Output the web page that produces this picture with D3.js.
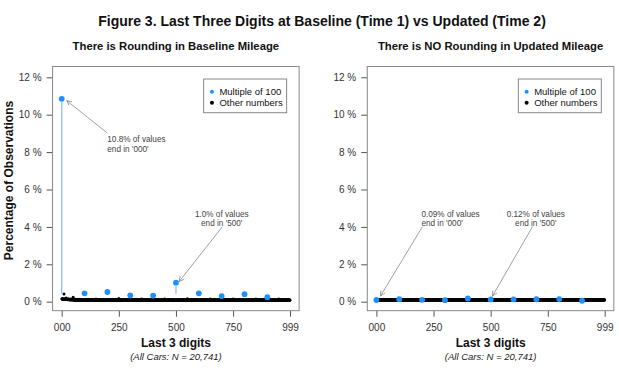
<!DOCTYPE html>
<html><head><meta charset="utf-8">
<script src="https://cdn.jsdelivr.net/npm/d3@7"></script>
<style>
body{margin:0;background:#fff}
text{font-family:"Liberation Sans",Arial,Helvetica,sans-serif}
</style>
</head><body>
<svg id="chart" width="619" height="369"></svg>
<script>
// ---------------- DATA ----------------
const N = 20741;
const figureTitle = "Figure 3. Last Three Digits at Baseline (Time 1) vs Updated (Time 2)";
const panelTitles = ["There is Rounding in Baseline Mileage", "There is NO Rounding in Updated Mileage"];
const xTitle = "Last 3 digits";
const xNote = "(All Cars: N = 20,741)";
const yTitle = "Percentage of Observations";
const legendLabels = ["Multiple of 100", "Other numbers"];

const xTicks = [0, 250, 500, 750, 999];
const xTickLabels = ["000", "250", "500", "750", "999"];
const yTicks = [0, 2, 4, 6, 8, 10, 12];

// multiples of 100 (000,100,...,900), percent of observations
const mult100Digits = [0, 100, 200, 300, 400, 500, 600, 700, 800, 900];
const baselineMult100 = [10.85, 0.45, 0.52, 0.34, 0.33, 1.02, 0.45, 0.30, 0.40, 0.24];
const updatedMult100  = [0.09, 0.13, 0.10, 0.08, 0.17, 0.12, 0.12, 0.13, 0.14, 0.05];

// other numbers: counts for digits b01..b99 of each hundred block b
const baselineOtherCounts = [
 [34,31,30,29,33,28,30,27,29,85, 30,28,27,29,26,28,25,27,26,40, 25,26,24,27,25,23,26,24,25,33, 24,23,25,22,24,23,22,24,23,30, 22,23,21,22,24,21,22,23,21,48, 21,20,22,21,19,22,20,21,20,27, 20,21,19,20,22,19,20,21,19,26, 19,20,18,21,19,20,19,18,20,27, 19,18,20,19,21,18,19,20,18,25, 19,20,18,19,17,20,19,18,19],
 [20,19,18,21,19,20,18,19,21,25, 18,20,19,17,20,19,21,18,19,24, 19,18,20,19,17,21,18,19,20,23, 18,19,21,17,19,20,18,19,17,24, 20,18,19,21,18,17,19,20,18,31, 19,17,20,18,19,21,18,17,19,23, 18,20,17,19,18,20,19,17,18,24, 19,18,20,17,19,18,21,19,18,23, 17,19,18,20,18,19,17,18,20,22, 18,19,17,20,18,17,19,18,19],
 [19,18,20,17,19,21,18,19,17,24, 18,20,19,18,17,20,19,18,21,23, 17,19,18,20,19,17,18,21,19,25, 20,18,17,19,18,20,19,17,18,23, 19,17,20,18,21,19,18,17,19,35, 18,19,17,20,18,19,21,17,18,24, 19,18,20,19,17,18,20,19,18,23, 17,20,18,19,18,17,19,20,18,24, 19,18,17,20,19,18,17,19,21,22, 18,19,20,17,18,19,18,20,17],
 [18,20,19,17,18,19,20,18,17,23, 19,18,17,20,19,18,19,17,20,24, 18,19,21,18,17,19,18,20,19,22, 17,18,19,20,18,17,19,18,20,24, 19,20,18,17,19,18,20,19,18,30, 18,17,19,20,18,19,17,18,19,23, 20,18,19,17,18,20,19,18,17,24, 19,17,18,20,19,18,21,17,19,23, 18,19,17,18,20,19,18,17,19,22, 19,18,20,17,19,18,17,20,18],
 [19,17,18,20,19,18,17,19,20,23, 18,19,20,17,18,19,21,18,17,24, 19,18,17,19,20,18,19,17,18,23, 20,19,18,17,19,18,20,19,17,25, 18,17,19,18,20,19,17,18,19,31, 19,18,20,17,18,19,18,20,17,23, 18,19,17,20,19,18,17,19,18,24, 17,18,19,20,18,17,19,18,20,22, 19,18,17,19,21,18,19,17,18,24, 18,20,19,17,18,19,20,18,17],
 [18,19,17,20,18,19,18,17,19,24, 19,18,20,18,17,19,20,18,19,23, 17,19,18,20,19,18,17,19,18,24, 19,18,17,19,20,18,19,18,17,23, 18,20,19,17,18,19,17,20,18,32, 19,17,18,19,20,18,19,17,18,22, 18,19,20,18,17,19,18,20,19,24, 17,18,19,18,20,19,17,18,19,23, 19,17,18,20,18,19,18,17,20,24, 18,19,17,18,19,20,18,17,19],
 [19,18,20,17,18,19,17,19,18,23, 18,17,19,20,18,19,18,17,19,24, 19,20,18,17,19,18,20,19,17,22, 18,19,17,18,20,19,18,17,19,24, 17,18,19,20,18,17,19,18,20,30, 19,18,17,19,18,20,19,18,17,23, 18,19,20,17,19,18,17,19,18,24, 19,17,18,19,20,18,19,17,18,23, 17,19,18,20,19,17,18,19,18,22, 19,18,17,19,18,20,17,18,19],
 [18,19,17,18,20,19,18,17,19,24, 19,18,20,19,17,18,19,20,18,23, 18,17,19,18,19,20,18,17,19,24, 19,18,17,20,18,19,17,18,20,22, 18,19,20,17,19,18,19,17,18,31, 17,19,18,19,20,18,17,19,18,24, 19,18,17,20,18,19,18,20,17,23, 18,19,18,17,19,20,18,19,17,24, 19,17,18,19,18,20,19,17,18,23, 18,19,17,20,18,17,19,18,19],
 [19,18,20,17,19,18,17,19,20,23, 18,17,19,18,20,19,18,17,19,24, 17,19,18,20,18,17,19,18,20,23, 19,18,17,19,18,20,17,18,19,24, 18,19,20,18,17,19,18,19,17,30, 19,17,18,20,19,18,17,19,18,22, 18,19,17,18,20,19,18,17,19,24, 19,18,20,17,18,19,17,20,18,23, 17,19,18,19,18,20,19,17,18,24, 18,17,19,20,18,19,17,18,20],
 [18,19,17,20,18,19,18,17,19,24, 19,17,18,20,19,18,17,19,18,23, 18,19,20,17,18,19,18,20,17,24, 19,18,17,19,20,18,19,17,18,23, 17,18,19,18,20,19,17,18,19,30, 18,19,17,20,18,19,18,17,19,24, 19,18,20,17,19,18,17,19,18,22, 18,17,19,18,20,19,18,17,19,23, 19,18,17,20,18,19,17,18,19,24, 18,19,18,17,20,18,19,17,19]
];
const updatedOtherCounts = [
 [21,19,22,20,23,18,21,20,22,19, 20,23,21,18,22,20,19,21,23,20, 22,19,21,20,18,22,21,20,23,19, 21,22,20,19,21,23,18,20,22,21, 19,20,22,21,23,20,19,21,22,20, 18,21,23,20,19,22,21,20,19,23, 21,20,22,18,21,19,22,20,21,23, 19,20,21,22,20,19,21,23,20,22, 18,21,20,19,22,21,23,20,19,21, 22,20,21,19,23,20,22,21,20],
 [20,22,19,21,23,20,18,21,22,20, 19,21,23,20,22,19,20,21,18,22, 21,20,19,23,21,22,20,19,21,20, 22,18,21,20,23,19,21,22,20,19, 21,23,20,19,22,21,18,20,22,21, 19,22,20,21,23,20,19,21,22,18, 20,21,23,19,20,22,21,20,19,21, 23,20,18,21,22,19,21,20,23,20, 19,22,21,20,18,21,23,19,20,22, 21,20,19,22,21,23,20,18,21],
 [22,20,21,19,23,21,20,18,22,21, 20,19,22,21,23,20,19,21,22,20, 18,21,20,23,19,22,21,20,19,21, 23,20,22,18,21,20,19,22,21,23, 20,19,21,22,20,18,23,21,20,19, 22,21,20,19,23,21,22,20,18,21, 19,22,21,20,23,19,20,21,22,20, 21,18,22,20,19,21,23,20,21,19, 20,22,21,23,19,20,18,21,22,20, 19,21,23,20,22,19,21,20,21],
 [21,20,23,19,22,21,18,20,21,22, 19,21,20,22,23,20,19,21,20,18, 22,21,19,20,23,21,22,20,19,21, 20,18,22,21,19,23,20,21,22,20, 19,21,20,23,22,18,21,20,19,22, 21,23,20,19,21,22,20,18,21,20, 22,19,21,20,23,21,19,22,20,21, 18,20,22,21,19,20,23,21,20,22, 21,19,20,22,21,18,20,23,19,21, 20,22,21,19,20,23,21,20,22],
 [20,21,19,22,23,20,21,18,22,20, 21,19,23,20,22,21,20,19,21,22, 18,20,21,23,19,22,20,21,20,19, 22,21,20,18,23,21,19,22,20,21, 20,23,21,19,22,20,21,18,20,22, 19,21,22,20,23,19,21,20,22,21, 20,18,21,22,19,21,23,20,19,21, 22,20,19,21,20,23,21,22,18,20, 21,19,22,20,21,20,19,23,21,22, 20,21,18,22,20,19,21,23,20],
 [19,22,21,20,23,19,21,20,22,18, 21,20,22,19,21,23,20,21,19,22, 20,18,21,22,20,19,23,21,20,21, 22,21,19,20,23,21,18,22,20,19, 21,20,22,21,19,23,20,21,22,20, 18,21,20,23,22,19,21,20,21,22, 20,19,21,22,20,21,23,18,20,21, 22,20,19,21,23,20,21,22,19,20, 21,23,20,18,21,22,19,20,21,23, 20,21,22,19,20,21,18,22,20],
 [21,19,22,20,21,23,20,18,21,22, 20,21,19,23,20,22,21,19,20,21, 22,18,21,20,23,19,21,22,20,21, 19,21,20,22,21,20,23,19,21,18, 22,20,21,19,23,21,20,22,19,20, 21,22,18,20,21,23,19,21,20,22, 20,19,21,23,20,21,22,18,21,20, 23,21,20,19,22,20,21,19,23,21, 20,22,19,21,20,18,22,21,20,23, 19,21,20,22,21,19,20,23,21],
 [22,20,19,21,23,20,21,22,18,21, 20,23,21,19,22,20,21,20,19,22, 21,18,20,22,21,23,19,20,21,20, 22,21,19,23,20,21,18,22,20,21, 19,20,22,21,23,19,21,20,22,18, 21,22,20,19,21,23,20,21,19,22, 20,21,23,18,20,22,21,19,20,21, 23,19,21,20,22,21,20,18,21,22, 20,21,19,22,20,23,21,20,19,21, 22,20,21,19,23,20,18,21,22],
 [20,21,22,19,20,23,21,18,22,20, 21,19,20,22,23,21,20,19,21,22, 18,22,21,20,19,23,20,21,22,20, 21,20,19,22,21,18,23,20,21,19, 22,21,20,23,19,21,20,22,18,21, 20,19,22,21,20,23,21,19,20,22, 21,23,20,18,22,21,19,20,21,23, 19,20,21,22,20,19,21,23,20,21, 22,18,21,20,23,21,20,19,22,20, 21,20,23,19,21,22,20,21,19],
 [21,20,22,19,23,21,20,18,21,22, 19,21,20,23,22,20,21,19,20,21, 22,20,18,21,23,19,22,20,21,20, 19,23,21,20,22,21,18,20,21,22, 20,21,19,22,20,23,21,20,19,21, 22,18,21,20,23,21,19,22,20,21, 20,22,21,19,20,21,23,18,21,20, 21,19,22,20,21,23,20,21,22,19, 20,21,23,18,21,20,22,19,21,20, 22,20,19,21,23,20,21,22,20]
];

// stems drawn under the annotated multiples (Baseline panel)
const baselineStemDigits = [0, 500];
const stemBottom = 0.42;

// annotations: text lines, text anchor position (digit, percent), arrow tail & head (digit, percent)
const baselineNotes = [
  {lines:["10.8% of values","end in '000'"], anchor:"start", tx:199.6, ty:[8.70, 8.15], from:[199.6, 9.02], to:[21.9, 10.75]},
  {lines:["1.0% of values","end in '500'"], anchor:"middle", tx:700.4, ty:[4.69, 4.19], from:[701.7, 3.99], to:[513.5, 1.07]}
];
const updatedNotes = [
  {lines:["0.09% of values","end in '000'"], anchor:"start", tx:197, ty:[4.69, 4.19], from:[201.4, 4.01], to:[17.5, 0.30]},
  {lines:["0.12% of values","end in '500'"], anchor:"middle", tx:697.4, ty:[4.69, 4.19], from:[682.9, 4.01], to:[507.8, 0.30]}
];

// ---------------- DRAW ----------------
const svg = d3.select("#chart");
const BLUE = "#1e90ff";
const FONT = '"Liberation Sans",Arial,Helvetica,sans-serif';

svg.append("text").attr("x", 322).attr("y", 25.5).attr("text-anchor", "middle")
  .attr("font-size", 14).attr("font-weight", "bold").attr("fill", "#111").text(figureTitle);

svg.append("text").attr("transform", "translate(12.5,180.5) rotate(-90)").attr("text-anchor", "middle")
  .attr("font-size", 12).attr("font-weight", "bold").attr("fill", "#111").text(yTitle);

const panels = [
  {dx: 0, title: panelTitles[0], mult: baselineMult100, others: baselineOtherCounts, stems: baselineStemDigits, notes: baselineNotes},
  {dx: 314.7, title: panelTitles[1], mult: updatedMult100, others: updatedOtherCounts, stems: [], notes: updatedNotes}
];

panels.forEach(p => {
  const x = d3.scaleLinear().domain([0, 999]).range([61.7 + p.dx, 290 + p.dx]);
  const y = d3.scaleLinear().domain([0, 12]).range([301.7, 77.3]);
  const x0 = x(-39.96), x1 = x(1038.96), y0 = y(-0.48), y1 = y(12.58);
  const g = svg.append("g");

  // panel title
  g.append("text").attr("x", (x0 + x1) / 2).attr("y", 50).attr("text-anchor", "middle")
    .attr("font-size", 11.3).attr("font-weight", "bold").attr("fill", "#111").text(p.title);

  // axes
  const ya = g.append("g").attr("transform", `translate(${x0},0)`)
    .call(d3.axisLeft(y).tickValues(yTicks).tickFormat(d => d + " %").tickSize(6).tickPadding(5));
  const xa = g.append("g").attr("transform", `translate(0,${y0})`)
    .call(d3.axisBottom(x).tickValues(xTicks).tickFormat((d, i) => xTickLabels[i]).tickSize(6).tickPadding(7));
  [ya, xa].forEach(a => {
    a.select(".domain").remove();
    a.selectAll("line").attr("stroke", "#555");
    a.selectAll("text").attr("font-size", 10).attr("fill", "#333").attr("font-family", FONT);
  });

  // box
  g.append("rect").attr("x", x0).attr("y", y1).attr("width", x1 - x0).attr("height", y0 - y1)
    .attr("fill", "none").attr("stroke", "#888").attr("stroke-width", 1);

  // axis titles
  g.append("text").attr("x", x(500)).attr("y", 347.3).attr("text-anchor", "middle")
    .attr("font-size", 12).attr("font-weight", "bold").attr("fill", "#111").text(xTitle);
  g.append("text").attr("x", x(500)).attr("y", 360).attr("text-anchor", "middle")
    .attr("font-size", 9.5).attr("font-style", "italic").attr("fill", "#222").text(xNote);

  // other numbers
  const pts = [];
  p.others.forEach((block, b) => block.forEach((c, i) => pts.push({d: b * 100 + i + 1, v: c / N * 100})));
  g.append("g").selectAll("circle").data(pts).join("circle")
    .attr("cx", d => x(d.d)).attr("cy", d => y(d.v)).attr("r", 1.5).attr("fill", "#000");

  // stems
  const multPts = mult100Digits.map((d, i) => ({d, v: p.mult[i]}));
  g.append("g").selectAll("line").data(multPts.filter(m => p.stems.includes(m.d))).join("line")
    .attr("x1", d => x(d.d)).attr("x2", d => x(d.d))
    .attr("y1", d => y(d.v) + 3.5).attr("y2", y(stemBottom))
    .attr("stroke", "#7fbcf2").attr("stroke-width", 1.2);

  // multiples of 100
  g.append("g").selectAll("circle").data(multPts).join("circle")
    .attr("cx", d => x(d.d)).attr("cy", d => y(d.v)).attr("r", 2.9).attr("fill", BLUE);

  // legend
  const lx = x1 - 12.5 - 83, ly = 79;
  g.append("rect").attr("x", lx).attr("y", ly).attr("width", 83).attr("height", 33.7)
    .attr("fill", "#fff").attr("stroke", "#888");
  [BLUE, "#000"].forEach((c, i) => {
    g.append("circle").attr("cx", lx + 8.3).attr("cy", ly + 12.7 + i * 11).attr("r", 2).attr("fill", c);
    g.append("text").attr("x", lx + 15.8).attr("y", ly + 12.7 + i * 11).attr("dy", "0.35em")
      .attr("font-size", 9.5).attr("fill", "#111").text(legendLabels[i]);
  });

  // annotations
  p.notes.forEach(n => {
    n.lines.forEach((t, i) => {
      g.append("text").attr("x", x(n.tx)).attr("y", y(n.ty[i])).attr("dy", "0.35em")
        .attr("text-anchor", n.anchor).attr("font-size", 8.2).attr("fill", "#444").text(t);
    });
    const fx = x(n.from[0]), fy = y(n.from[1]), tx = x(n.to[0]), ty = y(n.to[1]);
    const ang = Math.atan2(ty - fy, tx - fx), L = 5.5, a = Math.PI / 7;
    g.append("path")
      .attr("d", `M${fx},${fy}L${tx},${ty}M${tx - L * Math.cos(ang - a)},${ty - L * Math.sin(ang - a)}L${tx},${ty}L${tx - L * Math.cos(ang + a)},${ty - L * Math.sin(ang + a)}`)
      .attr("fill", "none").attr("stroke", "#888").attr("stroke-width", 0.8);
  });
});
</script>
</body></html>
